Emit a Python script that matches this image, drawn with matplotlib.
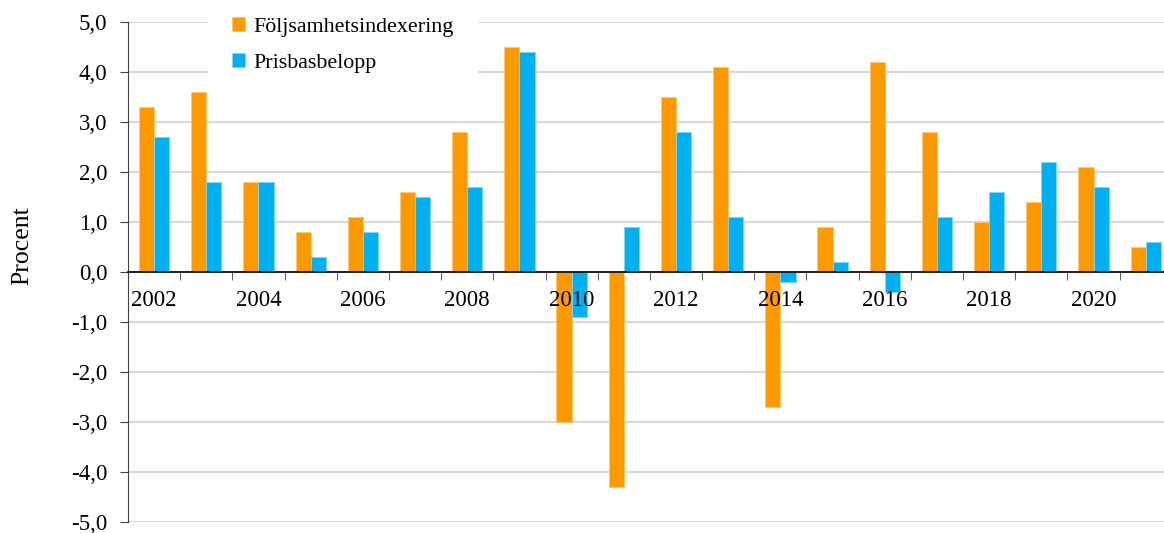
import numpy as np
import matplotlib
matplotlib.use("Agg")
import matplotlib.pyplot as plt
from matplotlib.ticker import FuncFormatter, FixedLocator

years = list(range(2002, 2022))
foljsamhet = [3.3, 3.6, 1.8, 0.8, 1.1, 1.6, 2.8, 4.5, -3.0, -4.3,
              3.5, 4.1, -2.7, 0.9, 4.2, 2.8, 1.0, 1.4, 2.1, 0.5]
prisbas = [2.7, 1.8, 1.8, 0.3, 0.8, 1.5, 1.7, 4.4, -0.9, 0.9,
           2.8, 1.1, -0.2, 0.2, -0.4, 1.1, 1.6, 2.2, 1.7, 0.6]
labels = ["Följsamhetsindexering", "Prisbasbelopp"]

serif = ['Liberation Serif', 'DejaVu Serif']
plt.rcParams['font.family'] = serif

fig = plt.figure(figsize=(11.64, 5.33), dpi=100)
ax = fig.add_axes([128/1164, 11/533, 1 - 128/1164, 500/533])

x = np.arange(len(years))
w = 0.29
ax.bar(x - w/2, foljsamhet, w, color='#FF9900', edgecolor='#FFC870', linewidth=0.6,
       label=labels[0], zorder=2)
ax.bar(x + w/2, prisbas, w, color='#00B0F0', edgecolor='#80D8F8', linewidth=0.6,
       label=labels[1], zorder=2)

ax.set_ylim(-5, 5)
ax.set_xlim(-0.5, 19.35)
ax.set_yticks(np.arange(-5, 6, 1))
ax.yaxis.set_major_formatter(FuncFormatter(lambda v, p: f"{v:.1f}".replace('.', ',')))
ax.set_axisbelow(False)
ax.yaxis.grid(True, color='#d9d9d9', linewidth=1.5, zorder=0)
ax.tick_params(axis='y', labelsize=16.5, direction='out', length=6, color='#404040',
               pad=9, labelfontfamily='Liberation Serif')

# x axis at zero
for s in ['top', 'right']:
    ax.spines[s].set_visible(False)
ax.spines['bottom'].set_position(('data', 0))
ax.spines['bottom'].set_color('black')
ax.spines['bottom'].set_linewidth(1.2)
ax.spines['bottom'].set_zorder(4)
ax.spines['left'].set_color('#404040')
ax.spines['left'].set_zorder(4)
ax.xaxis.set_major_locator(FixedLocator(x[::2]))
ax.set_xticklabels([str(y) for y in years[::2]])
ax.xaxis.set_minor_locator(FixedLocator(np.arange(0.5, 19.6, 1)))
ax.tick_params(axis='x', which='major', length=0, labelsize=16.5, pad=13,
               labelfontfamily='Liberation Serif')
ax.tick_params(axis='x', which='minor', length=6, direction='out', color='#404040')
ax.xaxis.set_zorder(5)
ax.yaxis.set_zorder(1)

fig.text(22/1164, 1 - 246/533, "Procent", rotation=90, ha='center', va='center',
         fontsize=18.5, family=serif)

leg = fig.legend(loc='upper left', bbox_to_anchor=(208/1164, 1 + 7/533),
                 prop={'family': serif, 'size': 15.8},
                 frameon=True, fancybox=False, framealpha=1, edgecolor='white',
                 handlelength=0.6, handleheight=0.6, handletextpad=0.35,
                 labelspacing=0.75, borderpad=1.1, borderaxespad=0.0)
leg.set_zorder(10)

fig.savefig("out.png", dpi=100)
